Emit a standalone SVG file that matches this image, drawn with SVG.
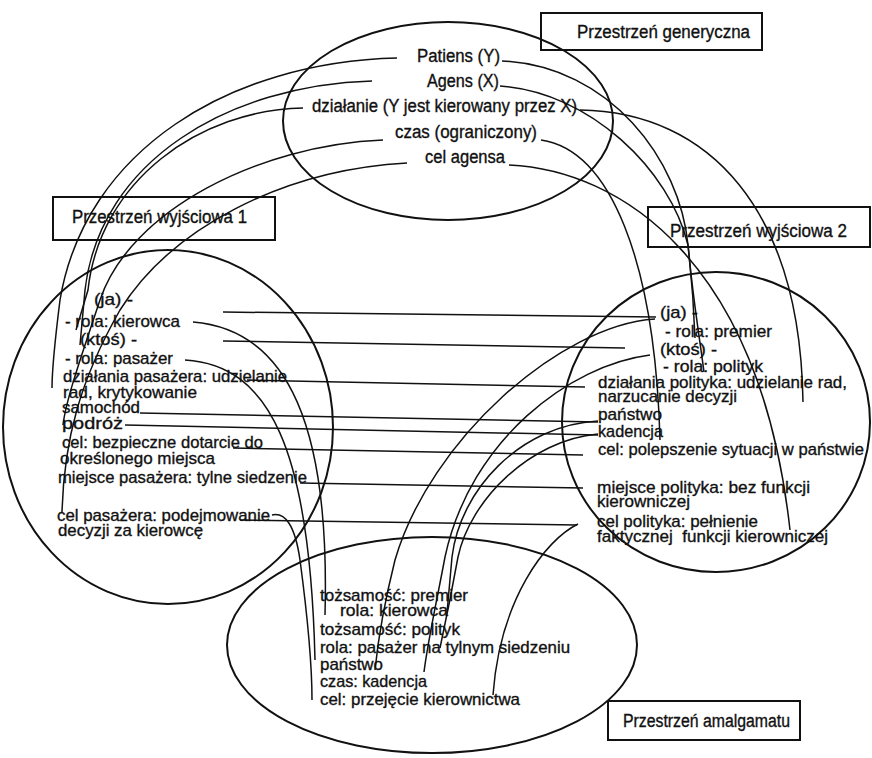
<svg xmlns="http://www.w3.org/2000/svg" width="872" height="758" viewBox="0 0 872 758">
<style>
.t{font-family:"Liberation Sans Narrow","Liberation Sans",Arial,sans-serif;font-size:17px;fill:#111;stroke:#111;stroke-width:0.35}
.lb{font-family:"Liberation Sans Narrow","Liberation Sans",Arial,sans-serif;font-size:18px;fill:#111;stroke:#111;stroke-width:0.35}
.e{fill:none;stroke:#111;stroke-width:2}
.bx{fill:none;stroke:#111;stroke-width:2}
.c{fill:none;stroke:#111;stroke-width:1.5}
</style>
<rect width="872" height="758" fill="#fff"/>

<g id="connectors">
  <!-- generic -> input 1 -->
  <path class="c" d="M397,58 C230,62 85,150 60,300 C55,340 52,370 52,388"/>
  <path class="c" d="M372,81 C230,85 100,160 85,290 L80,345"/>
  <path class="c" d="M303,108 C200,110 100,180 88,290 L76,330"/>
  <path class="c" d="M383,140 C260,145 130,210 100,300 C80,360 66,400 63,425"/>
  <path class="c" d="M407,163 C280,170 170,230 120,310 C80,380 64,440 62,512"/>
  <!-- generic -> input 2 -->
  <path class="c" d="M502,61 C610,66 680,160 688,245 C693,300 700,340 704,372"/>
  <path class="c" d="M500,86 C590,92 670,170 688,245 C692,280 694,310 695,338"/>
  <path class="c" d="M580,110 C710,112 800,210 803,402"/>
  <path class="c" d="M541,140 C610,150 655,260 660,440"/>
  <path class="c" d="M509,165 C620,170 760,260 790,530"/>
  <!-- input 1 <-> input 2 -->
  <path class="c" d="M223,312 L656,317"/>
  <path class="c" d="M223,341 L625,348"/>
  <path class="c" d="M247,380 L585,387"/>
  <path class="c" d="M140,413 L598,422"/>
  <path class="c" d="M125,425 L598,435"/>
  <path class="c" d="M233,448 L583,455"/>
  <path class="c" d="M300,483 L583,488"/>
  <path class="c" d="M240,520 L577,525"/>
  <!-- input 1 -> blend -->
  <path class="c" d="M193,322 C290,330 330,430 325,615"/>
  <path class="c" d="M185,360 C270,365 310,450 315,660"/>
  <path class="c" d="M272,515 C285,512 295,525 300,560 C308,620 312,660 312,700"/>
  <!-- input 2 -> blend -->
  <path class="c" d="M655,319 C560,325 430,440 395,560 C385,600 378,640 375,670"/>
  <path class="c" d="M650,355 C570,365 470,440 445,557 C437,600 428,640 424,672"/>
  <path class="c" d="M598,421 C520,425 460,490 452,557 C450,580 448,600 447,613"/>
  <path class="c" d="M598,434 C530,440 470,500 458,557 C452,590 446,620 440,648"/>
  <path class="c" d="M578,524 C545,540 500,600 493,695"/>
</g>

<g id="generic">
  <ellipse class="e" cx="448" cy="121" rx="165" ry="99"/>
  <rect class="bx" x="541" y="13" width="221" height="37"/>
  <text class="lb" x="577" y="38" textLength="173" lengthAdjust="spacingAndGlyphs">Przestrzeń generyczna</text>
  <text class="lb" x="417" y="62" textLength="83" lengthAdjust="spacingAndGlyphs">Patiens (Y)</text>
  <text class="lb" x="427" y="87" textLength="72" lengthAdjust="spacingAndGlyphs">Agens (X)</text>
  <text class="lb" x="312" y="112" textLength="265" lengthAdjust="spacingAndGlyphs">działanie (Y jest kierowany przez X)</text>
  <text class="lb" x="395" y="138" textLength="142" lengthAdjust="spacingAndGlyphs">czas (ograniczony)</text>
  <text class="lb" x="425" y="163" textLength="80" lengthAdjust="spacingAndGlyphs">cel agensa</text>
</g>

<g id="input1">
  <ellipse class="e" cx="168" cy="427" rx="165" ry="177"/>
  <rect class="bx" x="53" y="197" width="222" height="43"/>
  <text class="lb" x="72" y="223" textLength="175" lengthAdjust="spacingAndGlyphs">Przestrzeń wyjściowa 1</text>
  <text class="t" x="94" y="305" textLength="39" lengthAdjust="spacingAndGlyphs">(ja) -</text>
  <text class="t" x="65" y="327" textLength="115" lengthAdjust="spacingAndGlyphs">- rola: kierowca</text>
  <text class="t" x="80" y="345" textLength="57" lengthAdjust="spacingAndGlyphs">(ktoś) -</text>
  <text class="t" x="65" y="364" textLength="108" lengthAdjust="spacingAndGlyphs">- rola: pasażer</text>
  <text class="t" x="63" y="382" textLength="224" lengthAdjust="spacingAndGlyphs">działania pasażera: udzielanie</text>
  <text class="t" x="63" y="398" textLength="134" lengthAdjust="spacingAndGlyphs">rad, krytykowanie</text>
  <text class="t" x="62" y="413" textLength="78" lengthAdjust="spacingAndGlyphs">samochód</text>
  <text class="t" x="62" y="429" textLength="61" lengthAdjust="spacingAndGlyphs">podróż</text>
  <text class="t" x="62" y="448" textLength="201" lengthAdjust="spacingAndGlyphs">cel: bezpieczne dotarcie do</text>
  <text class="t" x="60" y="464" textLength="155" lengthAdjust="spacingAndGlyphs">określonego miejsca</text>
  <text class="t" x="58" y="483" textLength="249" lengthAdjust="spacingAndGlyphs">miejsce pasażera: tylne siedzenie</text>
  <text class="t" x="57" y="521" textLength="213" lengthAdjust="spacingAndGlyphs">cel pasażera: podejmowanie</text>
  <text class="t" x="58" y="536" textLength="145" lengthAdjust="spacingAndGlyphs">decyzji za kierowcę</text>
</g>

<g id="input2">
  <ellipse class="e" cx="716" cy="422" rx="154" ry="150"/>
  <rect class="bx" x="648" y="207" width="222" height="40"/>
  <text class="lb" x="670" y="237" textLength="177" lengthAdjust="spacingAndGlyphs">Przestrzeń wyjściowa 2</text>
  <text class="t" x="660" y="318" textLength="38" lengthAdjust="spacingAndGlyphs">(ja) -</text>
  <text class="t" x="665" y="337" textLength="107" lengthAdjust="spacingAndGlyphs">- rola: premier</text>
  <text class="t" x="660" y="355" textLength="57" lengthAdjust="spacingAndGlyphs">(ktoś) -</text>
  <text class="t" x="663" y="372" textLength="100" lengthAdjust="spacingAndGlyphs">- rola: polityk</text>
  <text class="t" x="598" y="388" textLength="249" lengthAdjust="spacingAndGlyphs">działania polityka: udzielanie rad,</text>
  <text class="t" x="598" y="402" textLength="139" lengthAdjust="spacingAndGlyphs">narzucanie decyzji</text>
  <text class="t" x="598" y="420" textLength="64" lengthAdjust="spacingAndGlyphs">państwo</text>
  <text class="t" x="598" y="437" textLength="65" lengthAdjust="spacingAndGlyphs">kadencja</text>
  <text class="t" x="598" y="455" textLength="266" lengthAdjust="spacingAndGlyphs">cel: polepszenie sytuacji w państwie</text>
  <text class="t" x="597" y="493" textLength="213" lengthAdjust="spacingAndGlyphs">miejsce polityka: bez funkcji</text>
  <text class="t" x="597" y="507" textLength="93" lengthAdjust="spacingAndGlyphs">kierowniczej</text>
  <text class="t" x="597" y="527" textLength="161" lengthAdjust="spacingAndGlyphs">cel polityka: pełnienie</text>
  <text class="t" x="597" y="542" textLength="231" lengthAdjust="spacingAndGlyphs" xml:space="preserve">faktycznej  funkcji kierowniczej</text>
</g>

<g id="blend">
  <ellipse class="e" cx="432" cy="645" rx="205" ry="108"/>
  <rect class="bx" x="608" y="701" width="192" height="39"/>
  <text class="lb" x="623" y="727" textLength="167" lengthAdjust="spacingAndGlyphs">Przestrzeń amalgamatu</text>
  <text class="t" x="320" y="601" textLength="148" lengthAdjust="spacingAndGlyphs">tożsamość: premier</text>
  <text class="t" x="340" y="616" textLength="108" lengthAdjust="spacingAndGlyphs">rola: kierowca</text>
  <text class="t" x="320" y="635" textLength="140" lengthAdjust="spacingAndGlyphs">tożsamość: polityk</text>
  <text class="t" x="320" y="653" textLength="250" lengthAdjust="spacingAndGlyphs">rola: pasażer na tylnym siedzeniu</text>
  <text class="t" x="320" y="670" textLength="63" lengthAdjust="spacingAndGlyphs">państwo</text>
  <text class="t" x="320" y="687" textLength="107" lengthAdjust="spacingAndGlyphs">czas: kadencja</text>
  <text class="t" x="320" y="705" textLength="200" lengthAdjust="spacingAndGlyphs">cel: przejęcie kierownictwa</text>
</g>
</svg>
